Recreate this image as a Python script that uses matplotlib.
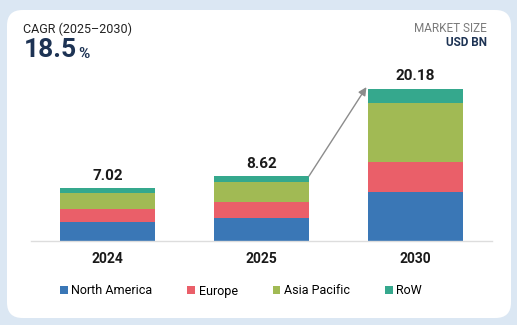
import matplotlib.pyplot as plt
from matplotlib.patches import FancyBboxPatch
import numpy as np

plt.rcParams['font.family'] = ['Roboto', 'DejaVu Sans']

years = ['2024', '2025', '2030']
totals = [7.02, 8.62, 20.18]
north_america = [2.52, 3.05, 6.50]
europe = [1.72, 2.12, 3.99]
asia_pacific = [2.12, 2.65, 7.82]
row = [0.66, 0.80, 1.87]

series = [('North America', north_america, '#3a77b6'),
          ('Europe', europe, '#ea5f69'),
          ('Asia Pacific', asia_pacific, '#a1ba54'),
          ('RoW', row, '#35a88d')]

W, H = 517, 325
fig = plt.figure(figsize=(W / 100, H / 100), dpi=100)
fig.patch.set_facecolor('#dbe7f3')

# white card behind everything
card = FancyBboxPatch((7 / W, 7 / H), 504 / W, 308 / H,
                      boxstyle='round,pad=0,rounding_size=0.03',
                      transform=fig.transFigure, facecolor='white',
                      edgecolor='none', mutation_aspect=W / H, zorder=-5)
fig.patches.append(card)

ax = fig.add_axes([31 / W, 84 / H, 461 / W, 171 / H])
ax.set_zorder(2)
ax.set_facecolor('none')
x = np.arange(len(years))
width = 0.617
bottom = np.zeros(len(years))
for name, vals, col in series:
    ax.bar(x, vals, width, bottom=bottom, color=col, label=name)
    bottom += np.array(vals)

for xi, t in zip(x, totals):
    ax.annotate(f'{t:.2f}', (xi, t), xytext=(0, 4), textcoords='offset points',
                ha='center', va='bottom', fontsize=11, fontweight='bold',
                color='#1a1a1a')

ax.annotate('', xy=(2 - width / 2 - 0.01, totals[2] + 0.25),
            xytext=(1 + width / 2, totals[1]),
            arrowprops=dict(arrowstyle='-|>', color='#8c8c8c', lw=1,
                            mutation_scale=12, shrinkA=0, shrinkB=0))

ax.set_xlim(-0.497, 2.497)
ax.set_ylim(0, 22.7)
ax.set_xticks(x)
ax.set_xticklabels(years, fontsize=10, fontweight='bold', color='#1a1a1a')
ax.tick_params(axis='x', length=0, pad=8)
ax.set_yticks([])
for s in ['top', 'right', 'left']:
    ax.spines[s].set_visible(False)
ax.spines['bottom'].set_color('#dddddd')
ax.spines['bottom'].set_linewidth(1)

fig.text(23 / W, 1 - 29 / H, 'CAGR (2025\u20132030)', fontsize=9,
         color='#222222', va='center')
big = fig.text(24 / W, 1 - 50 / H, '18.5', fontsize=19, fontweight='bold',
               color='#1d3354', va='center')
ax.annotate('%', xy=(1, 0), xycoords=big, xytext=(0.5, 0.5),
            textcoords='offset points', fontsize=11, fontweight='bold',
            color='#1d3354', ha='left', va='bottom', annotation_clip=False)
fig.text(487 / W, 1 - 29 / H, 'MARKET SIZE', fontsize=8.5,
         color='#7a7a7a', va='center', ha='right')
fig.text(487 / W, 1 - 42 / H, 'USD BN', fontsize=8.5, fontweight='bold',
         color='#1d3354', va='center', ha='right')

fig.legend(loc='center', bbox_to_anchor=(241 / W, 1 - 291 / H), ncol=4,
           frameon=False, fontsize=9, handlelength=0.6,
           handleheight=0.6, handletextpad=0.3, columnspacing=2.8)

fig.savefig('out.png', dpi=100, facecolor=fig.get_facecolor())
